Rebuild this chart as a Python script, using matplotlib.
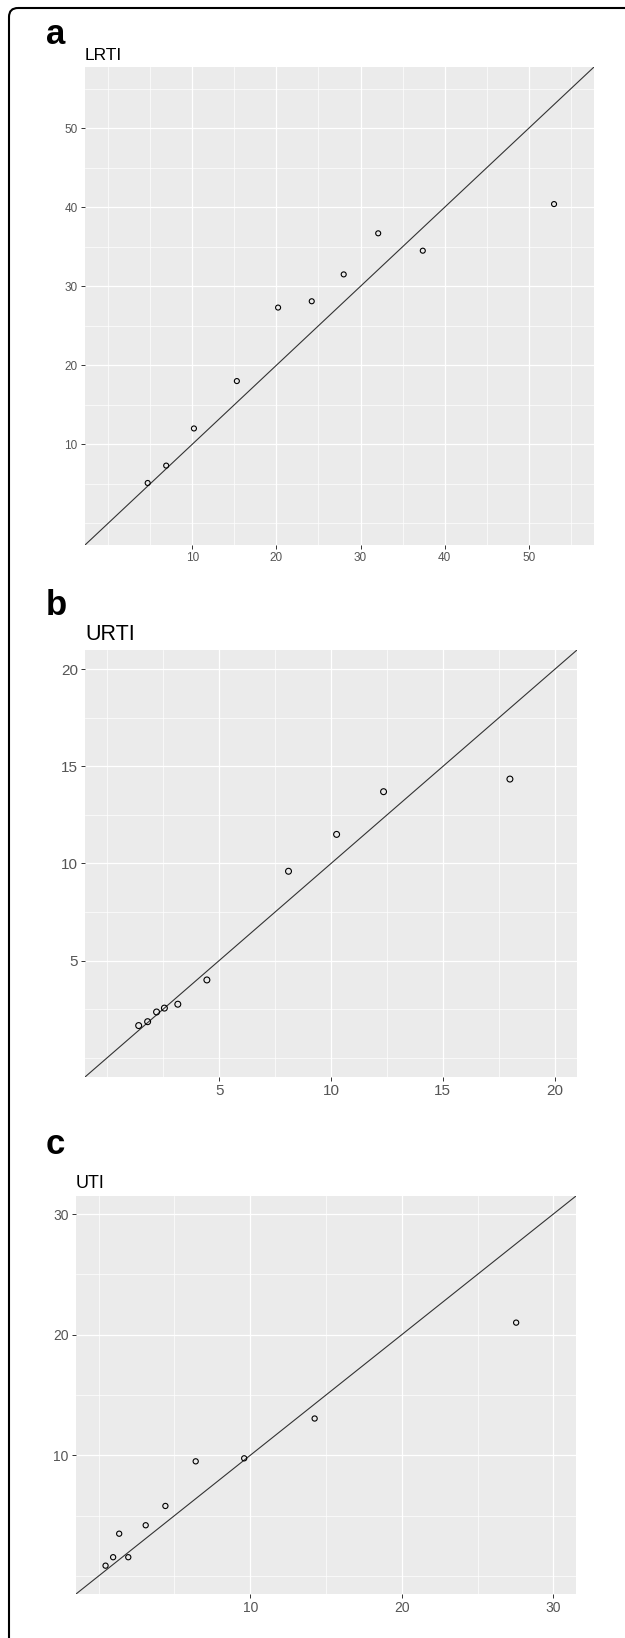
import matplotlib
matplotlib.use('Agg')
import matplotlib.pyplot as plt
from matplotlib.patches import FancyBboxPatch

W, H = 625, 1638
DPI = 100
plt.rcParams['font.family'] = ['Liberation Sans', 'DejaVu Sans']

# ---- data ----
lrti_x = [4.7, 6.9, 10.2, 15.3, 20.2, 24.2, 28.0, 32.1, 37.4, 53.0]
lrti_y = [5.1, 7.3, 12.0, 18.0, 27.3, 28.1, 31.5, 36.7, 34.5, 40.4]
urti_x = [1.4, 1.8, 2.2, 2.55, 3.15, 4.45, 8.1, 10.25, 12.35, 18.0]
urti_y = [1.65, 1.85, 2.35, 2.55, 2.75, 4.0, 9.6, 11.5, 13.7, 14.35]
uti_x = [0.45, 0.95, 1.35, 1.95, 3.1, 4.4, 6.4, 9.6, 14.25, 27.55]
uti_y = [0.85, 1.55, 3.5, 1.55, 4.2, 5.8, 9.5, 9.75, 13.05, 21.0]

lrti_major = [10, 20, 30, 40, 50]
lrti_minor = [0, 5, 15, 25, 35, 45, 55]
urti_major = [5, 10, 15, 20]
urti_minor = [0, 2.5, 7.5, 12.5, 17.5]
uti_major = [10, 20, 30]
uti_minor = [0, 5, 15, 25]

panels = [
    dict(letter='a', title='LRTI', x=lrti_x, y=lrti_y, lim=(-2.75, 57.75),
         major=lrti_major, minor=lrti_minor, box=(85, 67, 594, 545),
         tfs=8.5, titfs=12.5, s=13, title_xy=(85, 60), letter_xy=(46, 44)),
    dict(letter='b', title='URTI', x=urti_x, y=urti_y, lim=(-1, 21),
         major=urti_major, minor=urti_minor, box=(85, 650, 577, 1077),
         tfs=11, titfs=15.5, s=18, title_xy=(85, 640), letter_xy=(46, 615)),
    dict(letter='c', title='UTI', x=uti_x, y=uti_y, lim=(-1.5, 31.5),
         major=uti_major, minor=uti_minor, box=(76, 1196, 576, 1594),
         tfs=10, titfs=13, s=14, title_xy=(76, 1188), letter_xy=(46, 1154)),
]

fig = plt.figure(figsize=(W / DPI, H / DPI), dpi=DPI)

# border
axb = fig.add_axes([0, 0, 1, 1])
axb.set_xlim(0, W)
axb.set_ylim(H, 0)
axb.axis('off')
axb.add_patch(FancyBboxPatch((9, 8), 720, 1720,
                             boxstyle='round,pad=0,rounding_size=9',
                             fill=False, lw=1.5, edgecolor='black'))

for p in panels:
    x0, y0, x1, y1 = p['box']
    ax = fig.add_axes([x0 / W, 1 - y1 / H, (x1 - x0) / W, (y1 - y0) / H])
    ax.set_facecolor('#EBEBEB')
    for sp in ax.spines.values():
        sp.set_visible(False)
    ax.set_xlim(*p['lim'])
    ax.set_ylim(*p['lim'])
    ax.set_xticks(p['major'])
    ax.set_yticks(p['major'])
    ax.set_xticks(p['minor'], minor=True)
    ax.set_yticks(p['minor'], minor=True)
    ax.set_xticklabels([str(v) for v in p['major']])
    ax.set_yticklabels([str(v) for v in p['major']])
    ax.grid(which='major', color='white', lw=0.9)
    ax.grid(which='minor', color='white', lw=0.5)
    ax.set_axisbelow(True)
    ax.tick_params(which='major', length=3.2, width=0.7, color='#333333',
                   labelcolor='#555555', labelsize=p['tfs'], pad=2)
    ax.tick_params(which='minor', length=0)
    ax.axline((0, 0), slope=1, color='#333333', lw=0.8, zorder=2)
    ax.scatter(p['x'], p['y'], s=p['s'], facecolors='none',
               edgecolors='black', linewidths=0.8, zorder=3)
    tx, ty = p['title_xy']
    fig.text(tx / W, 1 - ty / H, p['title'], fontsize=p['titfs'],
             ha='left', va='baseline', color='black')
    lx, ly = p['letter_xy']
    fig.text(lx / W, 1 - ly / H, p['letter'], fontsize=25, fontweight='bold',
             ha='left', va='baseline', color='black')

fig.savefig('out.png', dpi=DPI)
